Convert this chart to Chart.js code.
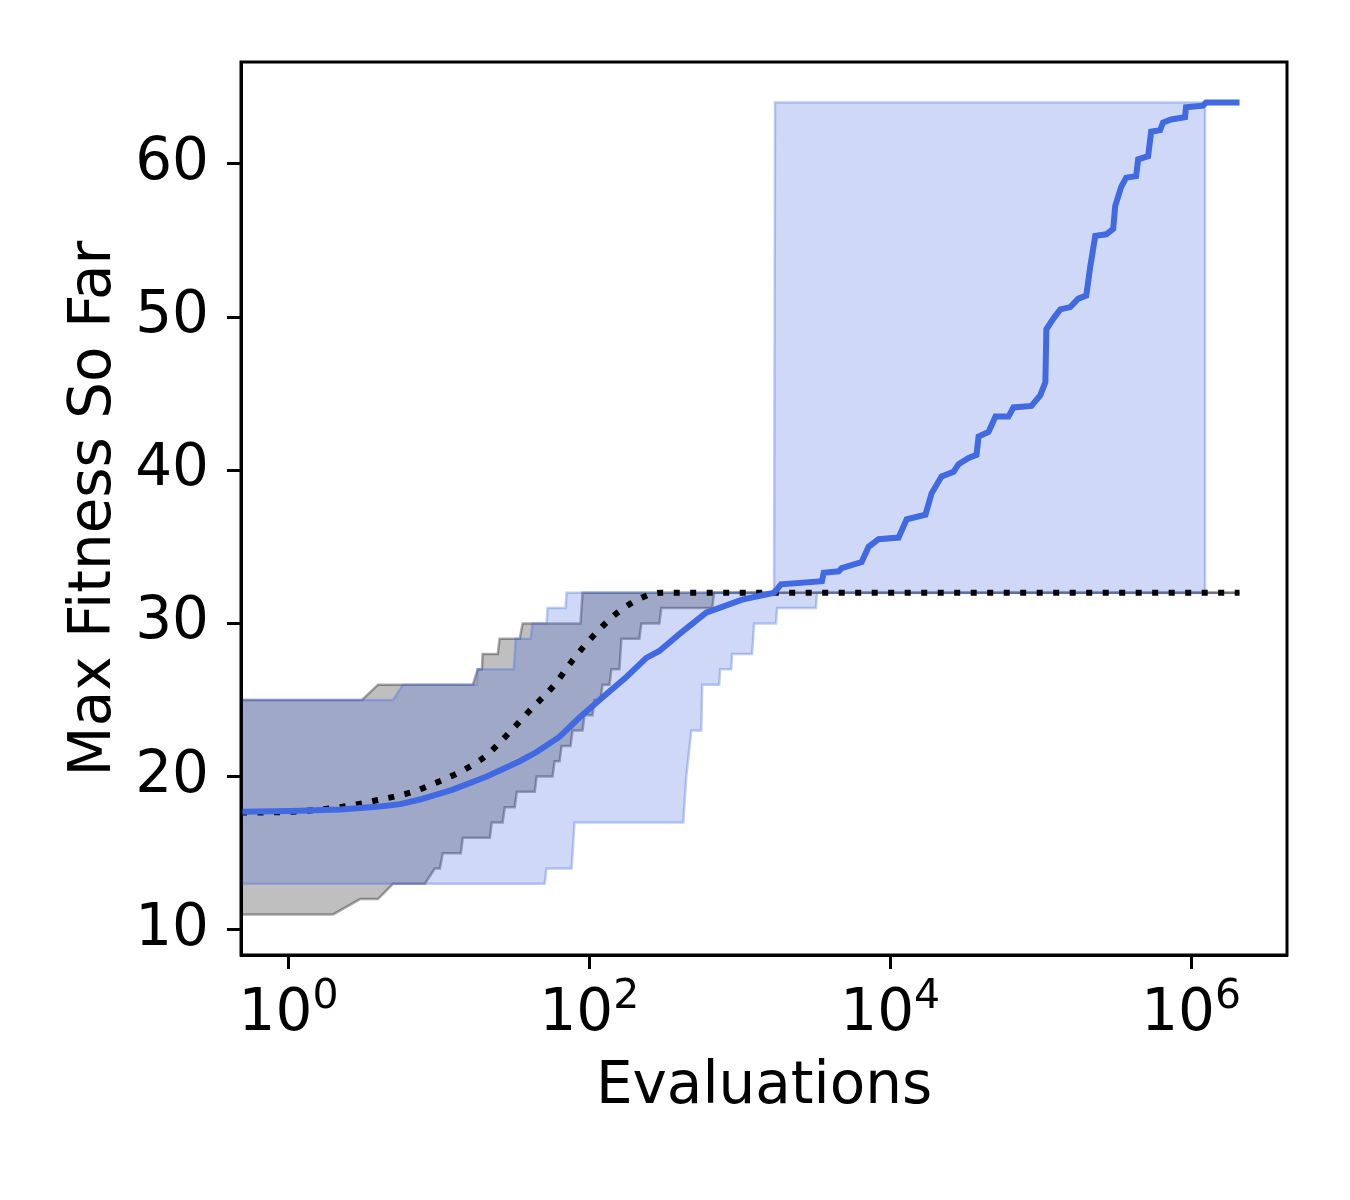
<!DOCTYPE html>
<html>
<head>
<meta charset="utf-8">
<script src="https://cdn.jsdelivr.net/npm/chart.js@4.4.1/dist/chart.umd.min.js"></script>
<style>
body{margin:0;background:#fff;}
</style>
</head>
<body>
<canvas id="fitChart" width="1350" height="1200"></canvas>
<script>
// mean max fitness (blue)
var fitX=[0.483,1.03,2.20,4.06,5.51,7.47,12.37,20.78,34.4,44.6,63.4,86.0,116.7,176.2,239.1,291.7,395.9,597.6,1036,1689,1878,3513,3612,4541,4754,6451,7180,8363,11354,12850,17147,18851,21956,26369,28467,33165,37467,38632,45003,50071,61071,65917,86766,99540,107450,109100,121400,135100,157300,177800,200900,213600,230600,272700,303500,312900,342900,370100,431000,444500,518000,542300,622100,651300,735800,910900,925000,1199000,1256000,2097152];
var fitY=[17.7,17.75,17.85,18.05,18.2,18.5,19.15,20.0,21.0,21.6,22.6,23.85,25.0,26.5,27.75,28.2,29.3,30.7,31.55,32.0,32.55,32.75,33.3,33.4,33.6,34.0,35.0,35.5,35.6,36.8,37.1,38.5,39.6,39.9,40.4,40.8,41.0,42.2,42.5,43.5,43.5,44.1,44.2,44.9,45.75,49.2,49.9,50.5,50.65,51.2,51.4,53.3,55.3,55.4,55.75,57.25,58.5,59.1,59.2,60.3,60.5,62.1,62.2,62.7,62.9,63.05,63.7,63.8,64.0,64.0];
// baseline mean (black dotted)
var baseX=[0.483,1.03,2.20,4.06,6.71,8.31,13.76,20.78,29.5,41.9,58.7,79.6,111.4,158.3,239.1,305.3,2097152];
var baseY=[17.65,17.7,18.0,18.5,19.0,19.35,20.3,21.4,22.9,24.5,26.0,27.75,29.4,30.8,31.8,32.0,32.0];
// blue band
var blueHiX=[0.483,4.95,5.76,17.8,18.1,31.4,32.4,40.7,41.9,51.9,52.7,69.4,70.5,1689,1715,1237000,1237000];
var blueHiY=[25,25,26,26,27,27,29,29,30,30,31,31,32,32,64,64,32];
var blueLoX=[0.483,50.4,51.9,76.1,79.6,420.7,440.5,475.5,553.8,562.3,729.1,740.4,875.7,889.2,1206,1244,1741,1768,3206,3255,1237000];
var blueLoY=[13,13,14,14,17,17,20,23,23,26,26,27,27,28,28,30,30,31,31,32,32];
// gray band
var grayHiX=[0.483,3.08,3.93,16.8,18.1,19.3,19.5,24.6,25.3,34.4,36.0,87.3,90.0,2097152];
var grayHiY=[25,25,26,26,27,27,28,28,29,29,30,30,32,32];
var grayLoX=[0.483,1.979,2.99,3.93,4.95,8.06,9.39,10.14,10.6,13.97,14.4,21.8,22.4,26.5,27.4,31.9,32.9,43.3,44.6,56.9,58.7,63.4,65.3,74.9,77.3,90.0,92.8,104.9,108.1,118.5,122.2,135.9,140.1,158.3,163.3,214.9,221.6,291.7,300.7,655.2,675.3,2097152];
var grayLoY=[11,11,12,12,13,13,14,14,15,15,16,16,17,17,18,18,19,19,20,20,21,21,22,22,23,23,24,24,25,25,26,26,27,27,29,29,30,30,31,31,32,32];

var xTickValues=[1,100,10000,1000000];
var xTickExps=["0","2","4","6"];
var yTickValues=[10,20,30,40,50,60];

function pts(xs,ys){
	var out=[];
	for(var i=0;i<xs.length;i++){ out.push({x:xs[i],y:ys[i]}); }
	return out;
}

// frame on all four sides
var frame={
	id:"frame",
	afterDatasetsDraw:function(chart){
		var a=chart.chartArea, ctx=chart.ctx;
		ctx.save();
		ctx.strokeStyle="#000";
		ctx.lineWidth=3;
		ctx.strokeRect(a.left,a.top,a.right-a.left,a.bottom-a.top);
		ctx.restore();
	}
};

// x tick labels as 10 with raised exponent
var powLabels={
	id:"powLabels",
	afterDraw:function(chart){
		var sx=chart.scales.x, ctx=chart.ctx;
		var base=chart.chartArea.bottom+75;
		ctx.save();
		ctx.fillStyle="#000";
		ctx.textBaseline="alphabetic";
		ctx.textAlign="left";
		for(var i=0;i<xTickValues.length;i++){
			var px=sx.getPixelForValue(xTickValues[i]);
			ctx.font="58px 'DejaVu Sans'";
			var w1=ctx.measureText("10").width;
			ctx.font="41px 'DejaVu Sans'";
			var w2=ctx.measureText(xTickExps[i]).width;
			var x0=px-(w1+w2)/2;
			ctx.font="58px 'DejaVu Sans'";
			ctx.fillText("10",x0,base);
			ctx.font="41px 'DejaVu Sans'";
			ctx.fillText(xTickExps[i],x0+w1,base-22);
		}
		ctx.restore();
	}
};

Chart.defaults.font.family="DejaVu Sans";
Chart.defaults.font.size=58;
Chart.defaults.color="#000";

var ctx=document.getElementById("fitChart").getContext("2d");
new Chart(ctx,{
	type:"line",
	data:{datasets:[
		{data:pts(fitX,fitY),borderColor:"#4169e1",borderWidth:6,pointRadius:0,fill:false,order:1},
		{data:pts(baseX,baseY),borderColor:"#000",borderWidth:6,borderDash:[6,10.5],borderCapStyle:"butt",pointRadius:0,fill:false,cubicInterpolationMode:"monotone",order:2},
		{data:pts(blueHiX,blueHiY),borderColor:"rgba(65,105,225,0.33)",borderWidth:2.5,pointRadius:0,fill:{target:3},backgroundColor:"rgba(65,105,225,0.25)",order:3},
		{data:pts(blueLoX,blueLoY),borderColor:"rgba(65,105,225,0.33)",borderWidth:2.5,pointRadius:0,fill:false,order:4},
		{data:pts(grayHiX,grayHiY),borderColor:"rgba(0,0,0,0.33)",borderWidth:2.5,pointRadius:0,fill:{target:5},backgroundColor:"rgba(0,0,0,0.25)",order:5},
		{data:pts(grayLoX,grayLoY),borderColor:"rgba(0,0,0,0.33)",borderWidth:2.5,pointRadius:0,fill:false,order:6}
	]},
	options:{
		responsive:false,
		animation:false,
		layout:{padding:{top:62,right:63,left:0,bottom:0}},
		plugins:{legend:{display:false},tooltip:{enabled:false}},
		scales:{
			x:{
				type:"logarithmic",
				min:0.483,
				max:4340000,
				afterFit:function(s){ s.height=245; },
				afterBuildTicks:function(s){ s.ticks=xTickValues.map(function(v){return {value:v};}); },
				ticks:{display:false},
				grid:{drawOnChartArea:false,drawTicks:true,tickLength:14,tickWidth:3,tickColor:"#000"},
				border:{display:true,color:"#000",width:3},
				title:{display:true,text:"Evaluations",padding:{top:0,bottom:77}}
			},
			y:{
				type:"linear",
				min:8.35,
				max:66.65,
				afterFit:function(s){ s.width=241; },
				afterBuildTicks:function(s){ s.ticks=yTickValues.map(function(v){return {value:v};}); },
				ticks:{padding:18},
				grid:{drawOnChartArea:false,drawTicks:true,tickLength:14,tickWidth:3,tickColor:"#000"},
				border:{display:true,color:"#000",width:3},
				title:{display:true,text:"Max Fitness So Far",padding:{top:60,bottom:0}}
			}
		}
	},
	plugins:[frame,powLabels]
});
</script>
</body>
</html>
